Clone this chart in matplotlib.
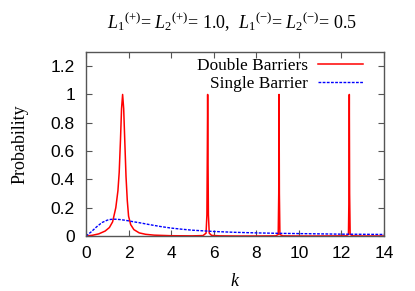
import matplotlib
matplotlib.use("Agg")
import matplotlib.pyplot as plt

# ---- data ----
k_double = [0.0, 0.3, 0.6, 0.9, 1.1, 1.25, 1.4, 1.5, 1.56, 1.62, 1.67, 1.72,
            1.77, 1.82, 1.88, 1.94, 2.0, 2.1, 2.25, 2.5, 2.8, 3.2, 4.0, 5.0,
            5.5, 5.64, 5.68, 5.70, 5.715, 5.73, 5.75, 5.79, 5.9, 6.3, 7.0, 8.0,
            8.9, 9.03, 9.055, 9.07, 9.085, 9.11, 9.25, 10.0, 11.0, 12.2, 12.33,
            12.355, 12.37, 12.385, 12.41, 12.55, 13.0, 14.0]
p_double = [0.0, 0.005, 0.015, 0.035, 0.06, 0.1, 0.2, 0.32, 0.45, 0.68, 0.9, 1.0,
            0.9, 0.68, 0.42, 0.25, 0.14, 0.08, 0.045, 0.022, 0.012, 0.006, 0.002, 0.001,
            0.003, 0.02, 0.15, 0.6, 1.0, 0.6, 0.15, 0.02, 0.004, 0.001, 0.0, 0.0,
            0.001, 0.01, 0.3, 1.0, 0.3, 0.01, 0.001, 0.0, 0.0, 0.001, 0.01,
            0.3, 1.0, 0.3, 0.01, 0.001, 0.0, 0.0]

k_single = [0.0, 0.25, 0.5, 0.75, 1.0, 1.15, 1.3, 1.45, 1.6, 1.8, 2.0, 2.25, 2.5,
            3.0, 3.5, 4.0, 4.5, 5.0, 6.0, 7.0, 8.0, 9.0, 10.0, 11.0, 12.0, 13.0, 14.0]
p_single = [0.0, 0.03, 0.065, 0.095, 0.112, 0.117, 0.119, 0.118, 0.116, 0.112, 0.107, 0.1, 0.094,
            0.08, 0.067, 0.056, 0.048, 0.041, 0.032, 0.026, 0.022, 0.019, 0.017, 0.015, 0.013, 0.012, 0.011]

xticks = [0, 2, 4, 6, 8, 10, 12, 14]
yticks = [0, 0.2, 0.4, 0.6, 0.8, 1.0, 1.2]
ytick_labels = ["0", "0.2", "0.4", "0.6", "0.8", "1", "1.2"]

plt.rcParams['mathtext.fontset'] = 'custom'
plt.rcParams['mathtext.rm'] = 'Liberation Serif'
plt.rcParams['mathtext.it'] = 'Liberation Serif:italic'

serif = 'Liberation Serif'
sans = 'Liberation Sans'
frame_col = '#555555'

fig = plt.figure(figsize=(4.15, 2.91), dpi=100)
ax = fig.add_axes([86/415, 1-236/291, (384-86)/415, (236-52)/291])

ax.plot(k_double, p_double, color='#ff0000', lw=1.1, label='Double Barriers')
ax.plot(k_single, p_single, color='#0000ff', lw=1.0, ls=(0, (2, 1)), label='Single Barrier')

ax.set_xlim(0, 14)
ax.set_ylim(0, 1.3)
ax.set_xticks(xticks)
ax.set_xticklabels([str(t) for t in xticks], fontfamily=sans, fontsize=12.5)
ax.set_yticks(yticks)
ax.set_yticklabels(ytick_labels, fontfamily=sans, fontsize=12.5)
ax.tick_params(direction='in', length=4, width=0.8, color=frame_col,
               top=True, right=True)
ax.tick_params(axis='x', pad=7)
ax.tick_params(axis='y', pad=8)
for s in ax.spines.values():
    s.set_color(frame_col)
    s.set_linewidth(1.0)

ax.set_xlabel('$k$', fontsize=13, labelpad=8)
ax.set_ylabel('Probability', fontfamily=serif, fontsize=13, labelpad=16)

leg = ax.legend(loc='upper right', markerfirst=False, frameon=False,
                prop={'family': serif, 'size': 12.4}, handlelength=2.65,
                handletextpad=0.57, labelspacing=0.12, borderaxespad=0.0,
                borderpad=0.0, bbox_to_anchor=(0.93, 0.968))

fig.text(0.56, 1-22/291,
         r'$L_1{}^{(+)}$= $L_2{}^{(+)}$= 1.0,  $L_1{}^{(-)}$= $L_2{}^{(-)}$= 0.5',
         ha='center', va='center', fontfamily=serif, fontsize=13)

fig.savefig('out.png', dpi=100)
